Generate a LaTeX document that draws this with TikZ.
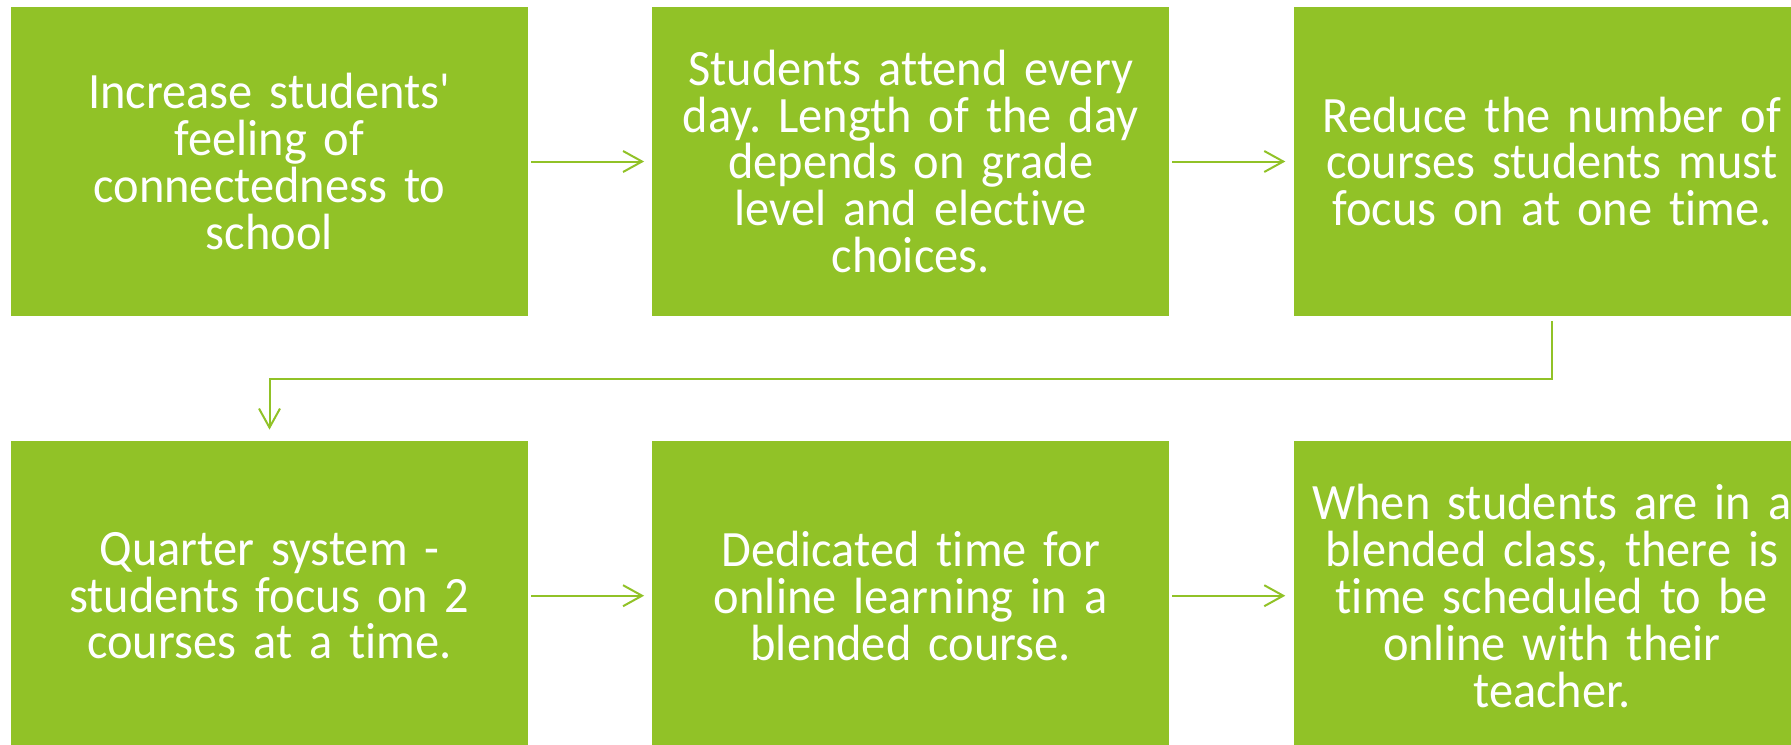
\documentclass[tikz,border=0pt]{standalone}
\usepackage{fontspec}
\setmainfont{Carlito}[FakeStretch=0.95,Ligatures=NoCommon]
\usepackage{tikz}
\usetikzlibrary{positioning,calc,arrows.meta}
\definecolor{leafgreen}{HTML}{91C227}
\tikzset{
  stepbox/.style={fill=leafgreen,text=white,inner sep=0pt,
    minimum width=10.33cm,minimum height=6.19cm,text width=9.6cm,
    align=center,font=\fontsize{29}{26.7}\selectfont},
  link/.style={draw=leafgreen,line width=0.04cm,
    -{Straight Barb[length=0.38cm,width=0.42cm]}},
}
\frenchspacing
\begin{document}
\begin{tikzpicture}[node distance=2.48cm]
      \useasboundingbox (0,0) rectangle (35.82,14.88);
      \node[stepbox] (1) at (5.39,11.65) {Increase students\textquotesingle\\ feeling of\\ connectedness to\\ school};
      \node[stepbox,right=of 1] (2) {Students attend every\\ day. Length of the day\\ depends on grade\\ level and elective\\ choices.};
      \node[stepbox,right=of 2] (3) {Reduce the number of\\ courses students must\\ focus on at one time.};
      \node[stepbox,below=of 1] (4) {Quarter system -\\ students focus on 2\\ courses at a time.};
      \node[stepbox,right=of 4] (5) {Dedicated time for\\ online learning in a\\ blended course.};
      \node[stepbox,right=of 5] (6) {When students are in a\\ blended class, there is\\ time scheduled to be\\ online with their\\ teacher.};
      \coordinate (turn) at ($(3.south)!0.5!(4.north)$);
      %% Horizontal arrows
      \draw[link,shorten <=0.06cm,shorten >=0.16cm] (1) -- (2);
      \draw[link,shorten <=0.06cm,shorten >=0.16cm] (2) -- (3);
      \draw[link,shorten <=0.06cm,shorten >=0.16cm] (4) -- (5);
      \draw[link,shorten <=0.06cm,shorten >=0.16cm] (5) -- (6);
      %% Row change
      \draw[link,shorten <=0.09cm,shorten >=0.22cm] (3.south) |- (turn) -| (4.north);
    \end{tikzpicture}
\end{document}
